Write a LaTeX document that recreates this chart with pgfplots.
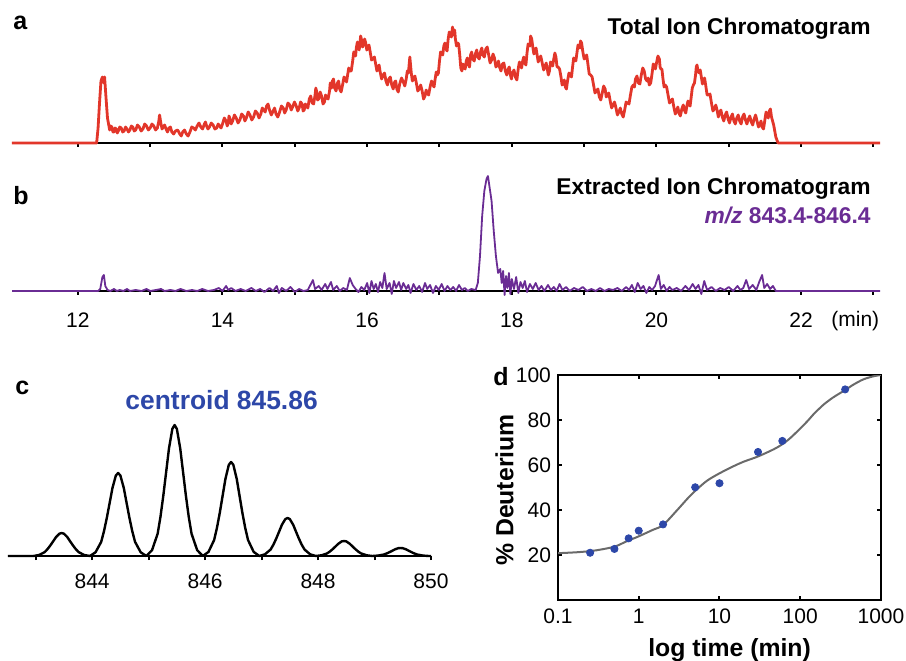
\documentclass[border=0pt]{standalone}
\usepackage{fontspec}
\setmainfont{Liberation Sans}
\usepackage{pgfplots}
\pgfplotsset{compat=1.18}
\definecolor{ticred}{HTML}{E2362A}
\definecolor{eicpurple}{HTML}{6A2C94}
\definecolor{cblue}{HTML}{2D47A8}
\definecolor{fitgray}{HTML}{6A6A6A}
\newcommand\tickfont{\fontsize{10.5}{12}\selectfont}
\newcommand\titlefont{\fontsize{11.4}{13}\selectfont\bfseries}
\newcommand\panelfont{\fontsize{12.5}{14}\selectfont\bfseries}
\pgfplotsset{
  chrom/.style={
    scale only axis, width=434pt, height=60pt,
    xmin=11.09, xmax=23.09, ymin=-6, ymax=120,
    axis x line=bottom, axis y line=none,
    axis line style={-, line width=1pt, black},
    xtick={12,...,23}, ytick=\empty,
    tick align=outside, major tick length=2pt,
    every tick/.style={line width=1pt, black},
    clip=false,
    ticklabel style={font=\tickfont},
    /pgf/number format/assume math mode=true,
  }
}
\begin{document}
\begin{tikzpicture}
\useasboundingbox (0,0) rectangle (453pt,330pt);
% ---------- panel a
\begin{axis}[chrom, at={(6pt,258.5pt)}, anchor=south west, ymin=0, xticklabels={}]
\addplot[color=ticred, line width=1.4pt, line join=round] coordinates {
(11.09,0) (12.26,0) (12.28,15) (12.30,40) (12.32,62) (12.34,66) (12.36,60) (12.37,66) (12.39,45) (12.41,25)
(12.44,13) (12.455,17) (12.47,16) (12.485,11) (12.50,11) (12.515,15) (12.53,14) (12.545,10) (12.56,12) (12.58,16)
(12.60,15) (12.62,11) (12.64,12) (12.66,16) (12.68,14) (12.70,11) (12.72,13) (12.74,17) (12.76,16) (12.78,12)
(12.80,13) (12.825,18) (12.85,16) (12.875,12) (12.90,14) (12.925,19) (12.95,17) (12.975,13) (13.00,15) (13.025,19)
(13.05,17) (13.075,13) (13.10,15) (13.12,22) (13.13,28) (13.15,19) (13.165,14) (13.18,16) (13.20,18) (13.22,14)
(13.24,11) (13.26,15) (13.28,16) (13.30,11) (13.325,9) (13.35,12) (13.38,13) (13.41,9) (13.43,7) (13.45,11)
(13.475,13) (13.50,9) (13.525,7) (13.55,11) (13.575,16) (13.60,15) (13.625,13) (13.65,17) (13.675,20) (13.70,16)
(13.725,14) (13.75,19) (13.765,21) (13.78,17) (13.80,14) (13.82,16) (13.845,20) (13.87,18) (13.895,14) (13.92,15)
(13.94,19) (13.96,17) (13.98,15) (14.00,19)
(14.025,25) (14.05,22) (14.065,17) (14.08,20) (14.09,27) (14.10,25) (14.12,19) (14.14,22) (14.165,28) (14.19,25)
(14.215,20) (14.24,23) (14.265,29) (14.29,27) (14.31,22) (14.33,25) (14.355,31) (14.38,28) (14.405,23) (14.43,26)
(14.455,32) (14.48,30) (14.505,25) (14.53,29) (14.55,35) (14.57,33) (14.59,31) (14.61,37) (14.63,39) (14.65,33)
(14.675,28) (14.70,32) (14.72,35) (14.74,29) (14.765,26) (14.79,31) (14.815,37) (14.84,35) (14.86,30) (14.88,33)
(14.905,40) (14.93,38) (14.95,33) (14.97,36) (14.995,41) (15.02,37) (15.04,32) (15.06,35) (15.08,41) (15.10,39)
(15.115,32) (15.13,33) (15.145,39) (15.16,37) (15.18,35) (15.20,44) (15.22,47) (15.24,40) (15.26,39) (15.28,48)
(15.29,55) (15.30,52) (15.315,43) (15.33,44) (15.35,51) (15.37,47) (15.39,39) (15.41,41) (15.425,48) (15.44,45)
(15.46,44) (15.48,52) (15.49,60) (15.50,58) (15.51,55) (15.52,62) (15.535,64) (15.55,55) (15.57,52) (15.59,60)
(15.605,62) (15.62,54) (15.64,51) (15.66,58) (15.68,66) (15.70,64) (15.715,61) (15.73,68) (15.745,75) (15.76,72)
(15.78,72) (15.80,82) (15.815,91) (15.83,90) (15.84,87) (15.85,95) (15.865,101) (15.88,97) (15.89,93) (15.90,100)
(15.91,107) (15.92,104) (15.935,96) (15.95,98) (15.965,104) (15.98,100) (15.995,93) (16.01,95) (16.025,98) (16.04,92)
(16.06,83) (16.08,84) (16.10,86) (16.12,78) (16.135,72) (16.15,76) (16.165,78) (16.18,71) (16.20,64) (16.22,68)
(16.24,70) (16.26,62) (16.28,58) (16.30,64) (16.32,66) (16.34,58) (16.36,54) (16.38,61) (16.395,62) (16.41,54)
(16.43,51) (16.45,59) (16.475,65) (16.50,61) (16.52,57) (16.54,64) (16.555,72) (16.57,70) (16.59,86) (16.61,70)
(16.625,62) (16.64,64) (16.66,67) (16.68,60) (16.70,52) (16.72,54) (16.74,58) (16.76,52) (16.78,44) (16.80,47)
(16.815,53) (16.83,50) (16.85,48) (16.87,56) (16.89,62) (16.91,58) (16.925,56) (16.94,64) (16.955,71) (16.97,68)
(16.985,70) (17.00,82) (17.015,91) (17.03,90) (17.045,88) (17.06,97) (17.075,100) (17.09,94) (17.105,92) (17.12,104)
(17.135,111) (17.15,108) (17.165,106) (17.18,116) (17.19,108) (17.20,110) (17.21,113) (17.22,104) (17.235,97) (17.25,100)
(17.265,99) (17.28,88) (17.295,75) (17.31,72) (17.325,79) (17.34,76) (17.355,74) (17.37,82) (17.385,85) (17.40,78)
(17.415,76) (17.43,88) (17.445,91) (17.46,84) (17.48,82) (17.50,90) (17.515,93) (17.53,86) (17.55,84) (17.57,92)
(17.585,95) (17.60,88) (17.62,86) (17.64,94) (17.66,96) (17.68,88) (17.70,80) (17.72,83) (17.74,89) (17.76,85)
(17.78,76) (17.80,78) (17.815,82) (17.83,76) (17.85,72) (17.87,79) (17.89,80) (17.91,72) (17.93,68) (17.95,74)
(17.965,76) (17.98,68) (17.995,64) (18.01,70) (18.03,73) (18.05,66) (18.07,63) (18.09,75) (18.105,81) (18.12,78)
(18.135,75) (18.15,82) (18.165,86) (18.18,80) (18.195,78) (18.21,90) (18.225,99) (18.24,98) (18.25,97) (18.26,107)
(18.275,104) (18.29,96) (18.305,89) (18.32,92) (18.335,95) (18.35,88) (18.365,81) (18.38,84) (18.40,87) (18.42,80)
(18.44,73) (18.46,77) (18.475,80) (18.49,74) (18.505,68) (18.52,72) (18.535,81) (18.55,80) (18.565,77) (18.58,84)
(18.595,90) (18.61,86) (18.625,76) (18.64,76) (18.66,74) (18.68,66) (18.695,58) (18.71,60) (18.725,63) (18.74,56)
(18.755,54) (18.77,62) (18.79,70) (18.81,68) (18.825,66) (18.84,76) (18.855,85) (18.87,84) (18.885,82) (18.90,90)
(18.915,98) (18.93,96) (18.94,95) (18.95,102) (18.965,100) (18.98,92) (19.00,84) (19.02,86) (19.035,88) (19.05,80)
(19.07,69) (19.09,68) (19.11,66) (19.13,58) (19.15,50) (19.17,52) (19.19,54) (19.21,46) (19.23,43) (19.25,50)
(19.27,57) (19.29,54) (19.305,46) (19.32,48) (19.34,50) (19.36,42) (19.38,35) (19.40,38) (19.42,41) (19.44,35)
(19.46,28) (19.48,31) (19.50,35) (19.52,29) (19.54,26) (19.56,33) (19.58,41) (19.60,40) (19.62,39) (19.64,48)
(19.66,56) (19.68,58) (19.695,56) (19.71,64) (19.73,67) (19.75,60) (19.77,59) (19.79,68) (19.81,75) (19.83,72)
(19.85,64) (19.87,62) (19.885,65) (19.90,58) (19.92,60) (19.94,70) (19.955,79) (19.97,78) (19.985,74) (20.00,80)
(20.02,87) (20.04,84) (20.05,76) (20.06,74) (20.075,74) (20.09,64) (20.105,56) (20.12,58) (20.14,56) (20.16,48)
(20.18,40) (20.20,42) (20.22,44) (20.24,36) (20.26,29) (20.28,32) (20.295,36) (20.31,30) (20.33,27) (20.35,34)
(20.37,38) (20.39,32) (20.405,30) (20.42,37) (20.435,42) (20.45,38) (20.465,37) (20.48,46) (20.495,55) (20.51,58)
(20.525,60) (20.54,68) (20.55,76) (20.56,78) (20.575,72) (20.59,70) (20.605,73) (20.62,66) (20.635,59) (20.65,62)
(20.665,65) (20.68,58) (20.70,48) (20.72,48) (20.74,49) (20.76,40) (20.78,32) (20.80,34) (20.82,38) (20.84,32)
(20.855,26) (20.87,30) (20.89,33) (20.91,26) (20.93,22) (20.95,28) (20.97,31) (20.99,24) (21.01,20) (21.03,26)
(21.05,29) (21.07,22) (21.09,19) (21.11,25) (21.13,28) (21.15,22) (21.17,19) (21.19,26) (21.21,29) (21.23,23)
(21.25,19) (21.27,24) (21.29,27) (21.31,21) (21.33,18) (21.35,24) (21.37,28) (21.39,22) (21.41,16) (21.43,19)
(21.445,22) (21.46,16) (21.48,14) (21.50,24) (21.515,31) (21.53,28) (21.545,25) (21.56,32) (21.575,34) (21.59,26)
(21.62,18) (21.65,6) (21.68,0) (23.09,0)
};
\end{axis}
% ---------- panel b
\begin{axis}[chrom, at={(6pt,184.5pt)}, anchor=south west, ymin=0,
  xticklabels={12,,14,,16,,18,,20,,22,},
  xticklabel style={anchor=base, yshift=-16.3pt}]
\addplot[color=eicpurple, line width=0.9pt, line join=round] coordinates {
(11.09,0) (12.28,0) (12.31,2) (12.34,14) (12.36,16) (12.38,5) (12.41,1) (12.45,0) (12.50,2) (12.54,0)
(12.58,1) (12.63,0) (12.68,2) (12.72,0) (12.80,1) (12.88,0) (12.95,2) (13.00,0) (13.08,1) (13.15,2)
(13.20,0) (13.28,1) (13.35,0) (13.42,2) (13.50,0) (13.58,1) (13.65,0) (13.72,2) (13.80,0) (13.88,1)
(13.95,3) (14.00,0) (14.05,5) (14.08,1) (14.12,3) (14.18,0) (14.25,2) (14.32,0) (14.40,3) (14.46,0)
(14.52,2) (14.58,-1) (14.65,3) (14.70,0) (14.75,5) (14.78,-2) (14.82,3) (14.88,0) (14.94,4) (15.00,-1)
(15.06,2) (15.12,0) (15.18,1) (15.25,11) (15.28,2) (15.33,5) (15.37,1) (15.42,7) (15.45,2) (15.50,9)
(15.53,1) (15.58,5) (15.62,0) (15.67,3) (15.72,1) (15.76,13) (15.80,6) (15.84,2) (15.88,-1) (15.92,4)
(15.96,1) (16.00,8) (16.03,-2) (16.06,10) (16.09,2) (16.12,7) (16.15,-1) (16.18,9) (16.21,3) (16.24,18)
(16.27,2) (16.31,8) (16.34,-3) (16.37,10) (16.40,3) (16.44,9) (16.47,1) (16.50,8) (16.54,2) (16.57,6)
(16.60,-2) (16.64,7) (16.68,1) (16.72,5) (16.76,-1) (16.80,8) (16.83,2) (16.87,6) (16.91,-2) (16.95,5)
(16.99,1) (17.03,7) (17.07,0) (17.11,5) (17.15,1) (17.19,4) (17.23,0) (17.27,6) (17.31,1) (17.35,3)
(17.39,0) (17.44,2) (17.50,1) (17.53,8) (17.56,35) (17.59,75) (17.62,100) (17.65,112) (17.67,115) (17.69,105)
(17.72,90) (17.75,60) (17.78,35) (17.81,18) (17.84,22) (17.86,8) (17.88,20) (17.90,-4) (17.92,15) (17.94,3)
(17.96,18) (17.98,-3) (18.00,12) (18.03,2) (18.06,14) (18.09,-2) (18.12,9) (18.15,3) (18.18,10) (18.21,-1)
(18.25,7) (18.29,2) (18.33,8) (18.37,1) (18.41,5) (18.45,0) (18.50,6) (18.54,1) (18.58,4) (18.62,0)
(18.66,7) (18.70,1) (18.75,4) (18.80,0) (18.86,3) (18.92,1) (18.98,4) (19.04,0) (19.10,2) (19.16,0)
(19.22,3) (19.28,0) (19.34,2) (19.40,1) (19.46,3) (19.52,0) (19.58,4) (19.62,1) (19.66,6) (19.70,-1)
(19.74,8) (19.78,2) (19.82,5) (19.86,-2) (19.90,4) (19.94,1) (19.98,5) (20.03,16) (20.06,2) (20.10,6)
(20.14,0) (20.18,4) (20.22,1) (20.28,3) (20.34,0) (20.40,5) (20.45,1) (20.50,7) (20.54,2) (20.58,6)
(20.62,-3) (20.66,10) (20.70,1) (20.76,4) (20.82,0) (20.88,3) (20.94,1) (21.00,4) (21.06,0) (21.12,5)
(21.16,1) (21.20,3) (21.24,11) (21.28,2) (21.33,6) (21.38,1) (21.42,9) (21.46,16) (21.49,3) (21.53,7)
(21.57,2) (21.61,5) (21.65,0) (23.09,0)
};
\end{axis}
% ---------- panel c
\begin{axis}[scale only axis, at={(4pt,52pt)}, anchor=south west, width=211.5pt, height=70pt,
  xmin=842.51, xmax=850, ymin=0, ymax=140,
  axis x line=bottom, axis y line=none,
  axis line style={-, line width=1pt, black},
  xtick={843,...,850}, xticklabels={,844,,846,,848,,850}, ytick=\empty,
  tick align=outside, major tick length=2pt,
  every tick/.style={line width=1pt, black},
  xticklabel style={font=\tickfont, anchor=base, yshift=-14.2pt},
  clip=false]
\addplot[black, line width=1.2pt, line join=round] coordinates {
(842.51,0) (842.96,0) (843.06,1.0) (843.16,3.9) (843.21,6.9) (843.26,10.6) (843.31,14.7) (843.36,18.9) (843.42,22.3) (843.46,23)
(843.50,22.3) (843.56,18.9) (843.61,14.7) (843.66,10.6) (843.71,6.9) (843.76,3.9) (843.86,1.0) (843.96,0)
(844.06,3.7) (844.16,14.1) (844.21,24.9) (844.26,38.2) (844.31,53.1) (844.36,68.1) (844.42,80.5) (844.46,83)
(844.50,80.5) (844.56,68.1) (844.61,53.1) (844.66,38.2) (844.71,24.9) (844.76,14.1) (844.86,3.7) (844.96,0)
(845.06,5.8) (845.16,22.3) (845.21,39.3) (845.26,60.3) (845.31,83.8) (845.36,107.4) (845.42,127.1) (845.46,131)
(845.50,127.1) (845.56,107.4) (845.61,83.8) (845.66,60.3) (845.71,39.3) (845.76,22.3) (845.86,5.8) (845.96,0)
(846.06,4.1) (846.16,16.0) (846.21,28.2) (846.26,43.2) (846.31,60.2) (846.36,77.1) (846.42,91.2) (846.46,94)
(846.50,91.2) (846.56,77.1) (846.61,60.2) (846.66,43.2) (846.71,28.2) (846.76,16.0) (846.86,4.1) (846.96,0)
(847.06,1.7) (847.16,6.5) (847.21,11.4) (847.26,17.5) (847.31,24.3) (847.36,31.2) (847.42,36.9) (847.46,38)
(847.50,36.9) (847.56,31.2) (847.61,24.3) (847.66,17.5) (847.71,11.4) (847.76,6.5) (847.86,1.7) (847.96,0)
(848.06,0.7) (848.16,2.6) (848.21,4.5) (848.26,6.9) (848.31,9.6) (848.36,12.3) (848.42,14.6) (848.46,15)
(848.50,14.6) (848.56,12.3) (848.61,9.6) (848.66,6.9) (848.71,4.5) (848.76,2.6) (848.86,0.7) (848.96,0)
(849.06,0.4) (849.16,1.4) (849.21,2.4) (849.26,3.7) (849.31,5.1) (849.36,6.6) (849.42,7.8) (849.46,8)
(849.50,7.8) (849.56,6.6) (849.61,5.1) (849.66,3.7) (849.71,2.4) (849.76,1.4) (849.86,0.4) (849.96,0) (850,0)
};
\end{axis}
% ---------- panel d
\begin{axis}[scale only axis, at={(279pt,30pt)}, anchor=south west, width=161.5pt, height=112.5pt,
  xmode=log, xmin=0.1, xmax=1000, ymin=0, ymax=100,
  xtick={0.1,1,10,100,1000}, xticklabels={0.1,1,10,100,1000}, xminorticks=false,
  ytick={20,40,60,80,100},
  axis line style={line width=1pt, black},
  tick align=inside, major tick length=2.2pt,
  every tick/.style={line width=1pt, black},
  ticklabel style={font=\tickfont},
  xticklabel style={anchor=base, yshift=-11.5pt},
  /pgf/number format/assume math mode=true]
\addplot[fitgray, line width=1pt, smooth] coordinates {
(0.1,20.8) (0.15,21.1) (0.2,21.4) (0.3,22.1) (0.5,23.7) (0.7,26) (1,28.3) (1.5,31.2) (2,33.3) (3,40)
(4,45) (5,48.5) (7,53) (10,56.3) (15,59.5) (20,61.5) (30,63.8) (50,67.5) (70,71) (100,76.2)
(125,79.8) (150,83) (175,85.3) (200,87.2) (250,89.8) (300,91.6) (360,93.3) (450,95.6) (600,98.0) (800,99.4) (1000,100)
};
\addplot[only marks, mark=*, mark size=1.8pt, color=cblue] coordinates {
(0.25,21.0) (0.5,22.7) (0.75,27.4) (1,30.8) (2,33.6) (5,50.1) (10,51.9) (30,65.8) (60,70.7) (360,93.6)
};
\end{axis}
% ---------- texts
\node[anchor=base west, inner sep=0pt, font=\panelfont] at (6.5pt,315pt) {a};
\node[anchor=base west, inner sep=0pt, font=\panelfont] at (6.5pt,227.5pt) {b};
\node[anchor=base west, inner sep=0pt, font=\panelfont] at (7.5pt,132.5pt) {c};
\node[anchor=base west, inner sep=0pt, font=\panelfont] at (246.5pt,137.5pt) {d};
\node[anchor=base east, inner sep=0pt, font=\titlefont] at (435.5pt,312.5pt) {Total Ion Chromatogram};
\node[anchor=base east, inner sep=0pt, font=\titlefont] at (435.5pt,232.5pt) {Extracted Ion Chromatogram};
\node[anchor=base east, inner sep=0pt, font=\titlefont, text=eicpurple] at (435.5pt,218.3pt) {\textit{m/z} 843.4-846.4};
\node[anchor=base west, inner sep=0pt, font=\tickfont] at (415.5pt,166.5pt) {(min)};
\node[anchor=base, inner sep=0pt, font=\fontsize{13.2}{15}\selectfont\bfseries, text=cblue] at (110.8pt,125.3pt) {centroid 845.86};
\node[anchor=base, inner sep=0pt, font=\fontsize{12.4}{14}\selectfont\bfseries] at (364.8pt,2pt) {log time (min)};
\node[anchor=center, rotate=90, inner sep=0pt, font=\fontsize{12.4}{14}\selectfont\bfseries] at (252.3pt,85pt) {\% Deuterium};
\end{tikzpicture}
\end{document}
